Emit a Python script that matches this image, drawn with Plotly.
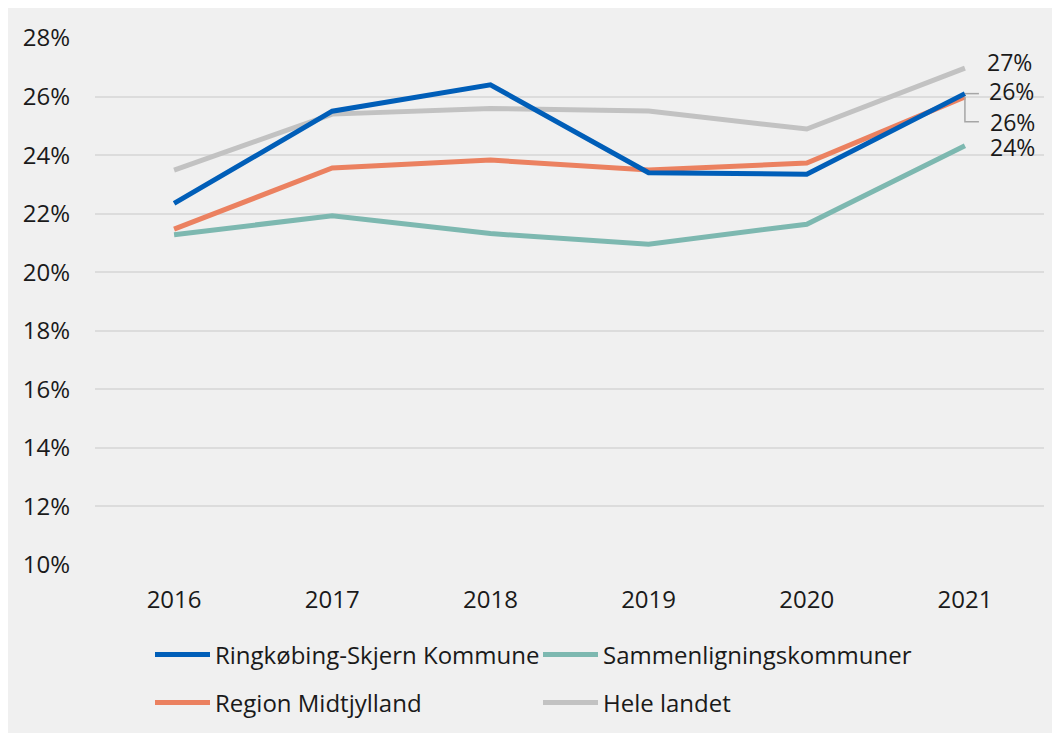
import plotly.graph_objects as go

years = ["2016", "2017", "2018", "2019", "2020", "2021"]
ringkobing = [22.35, 25.5, 26.4, 23.4, 23.35, 26.1]
sammenlign = [21.28, 21.93, 21.32, 20.96, 21.64, 24.32]
region = [21.47, 23.56, 23.83, 23.49, 23.73, 25.99]
hele = [23.49, 25.4, 25.59, 25.51, 24.89, 26.97]
yticks = [10, 12, 14, 16, 18, 20, 22, 24, 26, 28]
ytick_text = [f"{v}%" for v in yticks]

names = ["Ringkøbing-Skjern Kommune", "Sammenligningskommuner", "Region Midtjylland", "Hele landet"]
series = [ringkobing, sammenlign, region, hele]
colors = ["#005EB8", "#7DB8B0", "#EB8160", "#C2C2C2"]
legend_ids = ["legend", "legend", "legend2", "legend2"]

FONT = "Open Sans"
TXT = "#1a1a1a"
FS = 24

# page body has an 8px margin, so the figure sits at (8, 8) in the window
OFF = 8
W, H = 1060 - OFF, 733 - OFF
L, R, T, B = 87, 16, 30, 168
pw, ph = W - L - R, H - T - B

def px_x(p):
    return (p - OFF - L) / pw

def px_y(p):
    return (H - B - (p - OFF)) / ph

fig = go.Figure()
order = [3, 1, 2, 0]
for i in order:
    fig.add_trace(go.Scatter(
        x=list(range(len(years))), y=series[i], name=names[i], mode="lines",
        line=dict(color=colors[i], width=5), legend=legend_ids[i],
        legendrank=i,
    ))

# end labels
last = len(years) - 1
labels = [
    (hele[-1], 20, 6, None),
    (ringkobing[-1], 22, 3, "M0,0 H14"),
    (region[-1], 23, -25, "M0,0 V-25 H14"),
    (sammenlign[-1], 23, -1, None),
]
for val, xs, ys, path in labels:
    fig.add_annotation(x=last, y=val, text=f"{round(val):.0f}%", showarrow=False,
                       xanchor="left", yanchor="middle", xshift=xs, yshift=ys,
                       font=dict(family=FONT, size=23, color=TXT))
    if path:
        fig.add_shape(type="path", xref="x", yref="y", xsizemode="pixel", ysizemode="pixel",
                      xanchor=last, yanchor=val, path=path,
                      line=dict(color="#A6A6A6", width=1.5))

leg_common = dict(orientation="h", xanchor="left", yanchor="middle",
                  bgcolor="rgba(0,0,0,0)", entrywidth=318, itemwidth=55,
                  font=dict(family=FONT, size=FS, color=TXT), traceorder="normal")

fig.update_layout(
    width=W, height=H,
    margin=dict(l=L, r=R, t=T, b=B, pad=0, autoexpand=False),
    paper_bgcolor="#F0F0F0", plot_bgcolor="rgba(0,0,0,0)",
    font=dict(family=FONT, size=FS, color=TXT),
    xaxis=dict(range=[-0.5, 5.5], tickmode="array", tickvals=list(range(len(years))),
               ticktext=years, showgrid=False, zeroline=False, showline=False,
               ticks="", ticklabelstandoff=18, tickfont=dict(size=FS), automargin=False),
    yaxis=dict(range=[10, 28], tickmode="array", tickvals=yticks, ticktext=ytick_text,
               showgrid=True, gridcolor="#DCDCDC", gridwidth=2, zeroline=False,
               showline=False, ticks="", ticklabelstandoff=24, tickfont=dict(size=FS),
               automargin=False),
    legend=dict(x=px_x(150), y=px_y(655), **leg_common),
    legend2=dict(x=px_x(150), y=px_y(703), **leg_common),
    showlegend=True,
)

fig.write_html("out.html")
